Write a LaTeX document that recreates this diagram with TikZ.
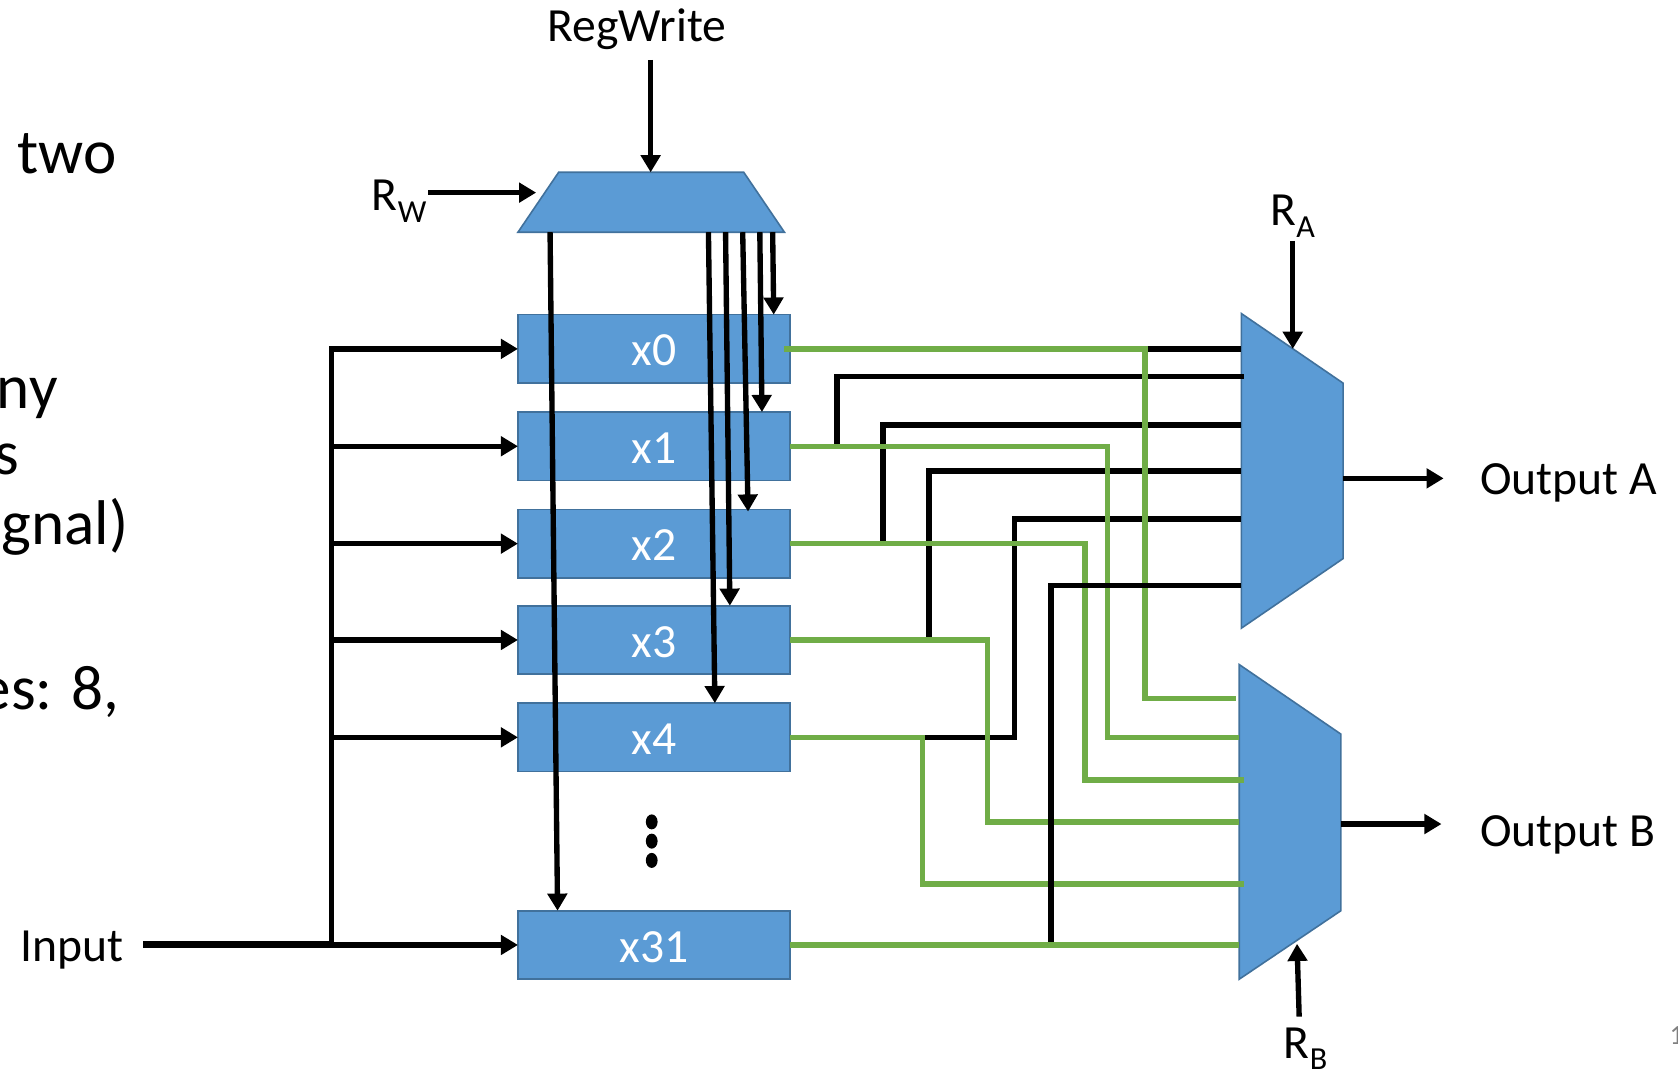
\documentclass[tikz,border=0pt]{standalone}
\usepackage{fontspec}
\setmainfont{Carlito}
\usetikzlibrary{arrows.meta,shapes.geometric}
\definecolor{regfill}{HTML}{5B9BD5}
\definecolor{regedge}{HTML}{41719C}
\definecolor{greenwire}{HTML}{70AD47}
\newcommand{\regsub}[1]{\raisebox{-11pt}{\fontsize{30}{30}\selectfont #1}}
\tikzset{
    regbox/.style={draw=regedge, line width=1.5pt, fill=regfill, text=white, minimum width=254pt, minimum height=64pt, inner sep=0pt, outer sep=0pt, text height=32pt, text depth=0pt, font=\fontsize{44.5}{48}\selectfont},
    muxshape/.style={draw=regedge, line width=1.5pt, fill=regfill, line join=miter},
    lbl/.style={inner sep=0pt, font=\fontsize{44.5}{48}\selectfont},
    bigtext/.style={inner sep=0pt, font=\fontsize{59}{64}\selectfont},
    blackwire/.style={line width=5pt, line join=miter},
    greenline/.style={draw=greenwire, line width=5pt, line join=miter},
    tip/.style={-{Triangle[width=18pt,length=16pt]}},
    dotmark/.style={ellipse, fill=black, minimum width=11pt, minimum height=14pt, inner sep=0pt},
}
\begin{document}
\begin{tikzpicture}[x=1pt,y=-1pt]
    \useasboundingbox (0,0) rectangle (1568,1003);
    \node[bigtext, anchor=west] (two) at (16,144) {two};
    \node[bigtext, anchor=east] (ny) at (54,372) {ny};
    \node[bigtext, anchor=east] (s) at (18,429) {s};
    \node[bigtext, anchor=east] (gnal) at (120,492) {gnal)};
    \node[bigtext, anchor=east] (es) at (112,647) {es: 8,};
    \node[anchor=west, inner sep=0pt, text=gray, font=\fontsize{26}{28}\selectfont] (pagenum) at (1560,968) {1};

    \node[regbox] (x0) at (611,326) {x0};
    \node[regbox] (x1) at (611,417) {x1};
    \node[regbox] (x2) at (611,508) {x2};
    \node[regbox] (x3) at (611,598) {x3};
    \node[regbox] (x4) at (611,689) {x4};
    \node[regbox] (x31) at (611,883) {x31};
    \node[dotmark] (dot0) at (609,768) {};
    \node[dotmark] (dot1) at (609,786) {};
    \node[dotmark] (dot2) at (609,804) {};

    \draw[muxshape] (522,161) -- (695,161) -- (733,217) -- (484,217) -- cycle;
    \draw[muxshape] (1160,293) -- (1255,358) -- (1255,522) -- (1160,587) -- cycle;
    \draw[muxshape] (1158,621) -- (1253,686) -- (1253,851) -- (1158,915) -- cycle;

    \node[lbl] (regwrite) at (595,27) {RegWrite};
    \node[lbl] (rw) at (373,188) {R\regsub{W}};
    \node[lbl] (ra) at (1208,202) {R\regsub{A}};
    \node[lbl] (rb) at (1220,980) {R\regsub{B}};
    \node[lbl] (input) at (67,888) {Input};
    \node[lbl, anchor=west] (outa) at (1383,451) {Output A};
    \node[lbl, anchor=west] (outb) at (1383,780) {Output B};

    \coordinate (wstart) at (608,56);
    \coordinate (wend) at (608,161);
    \coordinate (rwstart) at (400,180);
    \coordinate (rwend) at (501,180);
    \coordinate (rastart) at (1208,225);
    \coordinate (raend) at (1208,326);
    \coordinate (rbstart) at (1214,950);
    \coordinate (rbend) at (1212,882);
    \coordinate (aout) at (1255,447);
    \coordinate (aend) at (1349,447);
    \coordinate (bout) at (1253,770);
    \coordinate (bend) at (1347,770);
    \coordinate (inputstart) at (134,883);
    \coordinate (busbot) at (310,883);
    \coordinate (dec0) at (722,217);
    \coordinate (dec1) at (710,217);
    \coordinate (dec2) at (694,217);
    \coordinate (dec3) at (678,217);
    \coordinate (dec4) at (662,217);
    \coordinate (dec31) at (514,217);
    \coordinate (ina0) at (1160,326);
    \coordinate (ina1) at (1162,352);
    \coordinate (ina2) at (1160,397);
    \coordinate (ina3) at (1160,440);
    \coordinate (ina4) at (1160,485);
    \coordinate (ina5) at (1160,547);
    \coordinate (inb0) at (1155,653);
    \coordinate (inb1) at (1158,689);
    \coordinate (inb2) at (1162,729);
    \coordinate (inb3) at (1158,768);
    \coordinate (inb4) at (1162,826);
    \coordinate (inb5) at (1158,883);

    \draw[blackwire, tip] (wstart) -- (wend);
    \draw[blackwire, tip] (rwstart) -- (rwend);
    \draw[blackwire, tip] (rastart) -- (raend);
    \draw[blackwire, tip] (rbstart) -- (rbend);
    \draw[blackwire, tip] (aout) -- (aend);
    \draw[blackwire, tip] (bout) -- (bend);

    \draw[line width=6.5pt] (inputstart) -- (busbot);
    \draw[blackwire, tip] (busbot) |- (x0.west);
    \draw[blackwire, tip] (busbot |- x1.west) -- (x1.west);
    \draw[blackwire, tip] (busbot |- x2.west) -- (x2.west);
    \draw[blackwire, tip] (busbot |- x3.west) -- (x3.west);
    \draw[blackwire, tip] (busbot |- x4.west) -- (x4.west);
    \draw[blackwire, tip] (busbot) -- (x31.west);

    \draw[blackwire, tip] (dec0) -- ([xshift=-15pt]x0.north east);
    \draw[blackwire, tip] (dec1) -- ([xshift=-26pt]x1.north east);
    \draw[blackwire, tip] (dec2) -- ([xshift=-39pt,yshift=-2pt]x2.north east);
    \draw[blackwire, tip] (dec3) -- ([xshift=-56pt]x3.north east);
    \draw[blackwire, tip] (dec4) -- ([xshift=-70pt]x4.north east);
    \draw[blackwire, tip] (dec31) -- ([xshift=37pt]x31.north west);

    \draw[blackwire] (x0.east) -- (ina0);
    \draw[blackwire] (x1.east) -- ++(44,0) |- (ina1);
    \draw[blackwire] (x2.east) -- ++(87,0) |- (ina2);
    \draw[blackwire] (x3.east) -- ++(130,0) |- (ina3);
    \draw[blackwire] (x4.east) -- ++(210,0) |- (ina4);

    \draw[greenline] ([xshift=-5pt]x0.east) -- ++(337,0) |- (inb0);
    \draw[greenline] (x1.east) -- ++(297,0) |- (inb1);
    \draw[greenline] (x2.east) -- ++(276,0) |- (inb2);
    \draw[greenline] (x3.east) -- ++(185,0) |- (inb3);
    \draw[greenline] (x4.east) -- ++(124,0) |- (inb4);
    \draw[blackwire] (x31.east) -- ++(244,0) |- (ina5);
    \draw[greenline] (x31.east) -- (inb5);
\end{tikzpicture}
\end{document}
